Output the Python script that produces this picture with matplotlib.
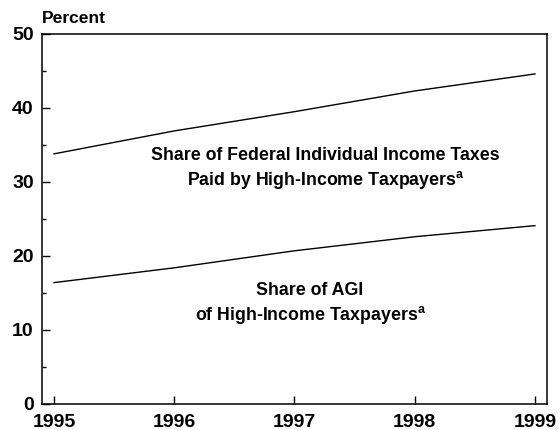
import matplotlib
matplotlib.use('Agg')
import matplotlib.pyplot as plt
from matplotlib.ticker import MultipleLocator

plt.rcParams['font.family'] = 'Liberation Sans'
plt.rcParams['mathtext.fontset'] = 'custom'
plt.rcParams['mathtext.bf'] = 'Liberation Sans:bold'
plt.rcParams['mathtext.rm'] = 'Liberation Sans'

years = [1995, 1996, 1997, 1998, 1999]
tax_share = [33.8, 36.9, 39.5, 42.3, 44.6]
agi_share = [16.4, 18.4, 20.7, 22.6, 24.1]

fig = plt.figure(figsize=(5.59, 4.30), dpi=100)
ax = fig.add_axes([0.0751, 0.0605, 0.9034, 0.8605])

ax.plot(years, tax_share, color='black', lw=1.0)
ax.plot(years, agi_share, color='black', lw=1.0)

ax.set_xlim(1994.9, 1999.1)
ax.set_ylim(0, 50)
ax.set_xticks(years)
ax.yaxis.set_major_locator(MultipleLocator(10))
ax.yaxis.set_minor_locator(MultipleLocator(5))
ax.tick_params(axis='both', which='major', direction='in', length=6, width=1.0,
               labelsize=14, pad=6)
ax.tick_params(axis='x', which='major', pad=7)
ax.tick_params(axis='y', which='minor', direction='in', length=3, width=1.0)
for lab in ax.get_xticklabels() + ax.get_yticklabels():
    lab.set_fontweight('bold')
for sp in ax.spines.values():
    sp.set_linewidth(1.1)

fig.text(0.075, 0.94, 'Percent', fontsize=12.6, fontweight='bold', ha='left', va='bottom')

ax.text(1997.26, 31.8, 'Share of Federal Individual Income Taxes\n'
        r'Paid by High-Income Taxpayers$^{\mathbf{a}}$',
        ha='center', va='center', fontsize=12.8, fontweight='bold', linespacing=1.3)
ax.text(1997.13, 13.5, 'Share of AGI\n' r'of High-Income Taxpayers$^{\mathbf{a}}$',
        ha='center', va='center', fontsize=12.8, fontweight='bold', linespacing=1.35)

fig.savefig('out.png', dpi=100)
